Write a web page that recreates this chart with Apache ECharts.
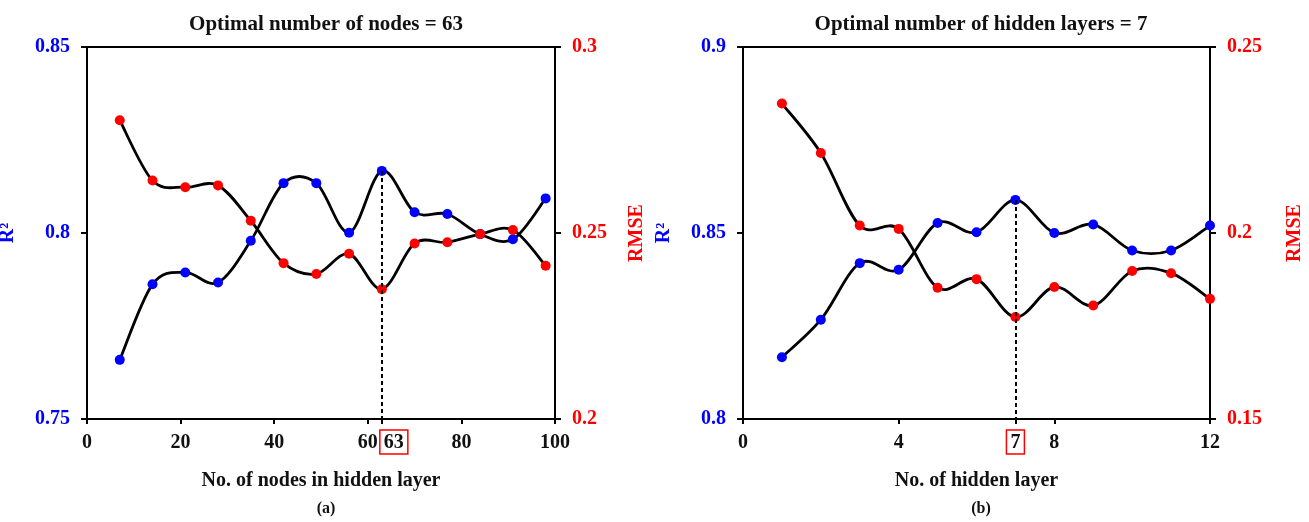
<!DOCTYPE html>
<html>
<head>
<meta charset="utf-8">
<script src="https://cdn.jsdelivr.net/npm/echarts@6/dist/echarts.min.js"></script>
<style>html,body{margin:0;padding:0;background:#fff;}#c{width:1309px;height:522px;}</style>
</head>
<body>
<div id="c"></div>
<script>
// ---- data ----
const nodes = [7,14,21,28,35,42,49,56,63,70,77,84,91,98];
const r2Nodes = [0.7659,0.7862,0.7894,0.7867,0.7979,0.8134,0.8134,0.8001,0.8167,0.8056,0.8051,0.7997,0.7983,0.8093];
const rmseNodes = [0.2803,0.2641,0.2623,0.2628,0.2533,0.2419,0.2390,0.2444,0.2349,0.2472,0.2475,0.2497,0.2508,0.2412];
const layers = [1,2,3,4,5,6,7,8,9,10,11,12];
const r2Layers = [0.8166,0.8267,0.8419,0.8401,0.8527,0.8502,0.8589,0.8500,0.8523,0.8453,0.8453,0.8520];
const rmseLayers = [0.2348,0.2215,0.2020,0.2011,0.1853,0.1876,0.1774,0.1855,0.1805,0.1898,0.1892,0.1823];
const optNodes = 63;
const optLayers = 7;
const xTicksNodes = [0,20,40,60,80,100];
const xTicksLayers = [0,4,8,12];
const titles = ['Optimal number of nodes = 63', 'Optimal number of hidden layers = 7'];
const xNames = ['No. of nodes in hidden layer', 'No. of hidden layer'];
const panelTags = ['(a)', '(b)'];

// ---- styling ----
const FF = '"Liberation Serif","Times New Roman",serif';
const BLUE = '#0000ff', RED = '#ff0000', BLACK = '#000000', INK = '#111111';
const zip = (xs, ys) => xs.map((x, i) => [x, ys[i]]);
const fmt = v => String(+v.toFixed(2));

function xAxis(grid, ticks, opt, name) {
  const tickVals = ticks.concat([opt]).sort((a, b) => a - b);
  return {
    type: 'value', gridIndex: grid, min: ticks[0], max: ticks[ticks.length - 1],
    interval: ticks[1] - ticks[0],
    name, nameLocation: 'middle', nameGap: 52,
    nameTextStyle: {fontFamily: FF, fontWeight: 'bold', fontSize: 20, color: INK},
    axisLine: {show: true, onZero: false, lineStyle: {color: BLACK, width: 2}},
    axisTick: {show: true, inside: false, length: 5, customValues: tickVals, lineStyle: {color: BLACK, width: 2}},
    axisLabel: {show: true, margin: 14, customValues: ticks, fontFamily: FF, fontWeight: 'bold', fontSize: 20, color: INK},
    splitLine: {show: false}
  };
}
function yAxis(grid, pos, min, max, color, name, nameGap) {
  return {
    type: 'value', gridIndex: grid, position: pos, min, max, interval: 0.05,
    name, nameLocation: 'middle', nameGap, nameRotate: 90,
    nameTextStyle: {fontFamily: FF, fontWeight: 'bold', fontSize: 20, color},
    axisLine: {show: true, onZero: false, lineStyle: {color: BLACK, width: 2}},
    axisTick: {show: true, inside: false, length: 6, lineStyle: {color: BLACK, width: 2}},
    axisLabel: {show: true, margin: 17, fontFamily: FF, fontWeight: 'bold', fontSize: 20, color, formatter: fmt},
    splitLine: {show: false}
  };
}
// Excel-like smoothed curve (Catmull-Rom -> cubic Bezier) drawn through the axis scales
function curveSeries(xi, yi, xs, ys) {
  return {
    type: 'custom', coordinateSystem: 'cartesian2d', xAxisIndex: xi, yAxisIndex: yi,
    data: zip(xs, ys), silent: true, animation: false, z: 2,
    renderItem: function (params, api) {
      if (params.dataIndex !== 0) return null;
      const p = xs.map((x, i) => api.coord([x, ys[i]]));
      const n = p.length;
      let d = 'M' + p[0][0] + ' ' + p[0][1];
      for (let i = 0; i < n - 1; i++) {
        const p0 = p[Math.max(i - 1, 0)], p1 = p[i], p2 = p[i + 1], p3 = p[Math.min(i + 2, n - 1)];
        const c1 = [p1[0] + (p2[0] - p0[0]) / 6, p1[1] + (p2[1] - p0[1]) / 6];
        const c2 = [p2[0] - (p3[0] - p1[0]) / 6, p2[1] - (p3[1] - p1[1]) / 6];
        d += ' C' + c1[0] + ' ' + c1[1] + ' ' + c2[0] + ' ' + c2[1] + ' ' + p2[0] + ' ' + p2[1];
      }
      return {type: 'path', shape: {pathData: d}, style: {fill: 'none', stroke: BLACK, lineWidth: 2.8}};
    }
  };
}
function pointSeries(xi, yi, xs, ys, color) {
  return {
    type: 'scatter', xAxisIndex: xi, yAxisIndex: yi, data: zip(xs, ys),
    symbol: 'circle', symbolSize: 10, itemStyle: {color, opacity: 1},
    emphasis: {disabled: true}, animation: false, z: 4
  };
}
function optMark(x, y, yBottom, gapW) {
  return {
    symbol: ['none', 'none'], silent: true, animation: false,
    lineStyle: {color: BLACK, type: [4, 3], width: 2},
    label: {
      show: true, position: 'end', distance: 11,
      formatter: '{g|}{b|' + x + '}',
      rich: {
        g: {width: gapW},
        b: {fontFamily: FF, fontWeight: 'bold', fontSize: 20, color: INK,
            borderColor: RED, borderWidth: 1.5, padding: [3, 4, 1, 4]}
      }
    },
    data: [[{coord: [x, y]}, {coord: [x, yBottom]}]]
  };
}

const pA = pointSeries(0, 0, nodes, r2Nodes, BLUE);
pA.markLine = optMark(optNodes, r2Nodes[nodes.indexOf(optNodes)], 0.75, 24);
const pB = pointSeries(1, 2, layers, r2Layers, BLUE);
pB.markLine = optMark(optLayers, r2Layers[layers.indexOf(optLayers)], 0.8, 0);

const titleStyle = {fontFamily: FF, fontWeight: 'bold', fontSize: 21, color: INK};
const tagStyle = {fontFamily: FF, fontWeight: 'bold', fontSize: 16, color: INK};
const option = {
  backgroundColor: '#fff',
  animation: false,
  title: [
    {text: titles[0], left: 321, top: 9, textAlign: 'center', textStyle: titleStyle},
    {text: titles[1], left: 976, top: 9, textAlign: 'center', textStyle: titleStyle},
    {text: panelTags[0], left: 321, top: 496, textAlign: 'center', textStyle: tagStyle},
    {text: panelTags[1], left: 976, top: 496, textAlign: 'center', textStyle: tagStyle}
  ],
  grid: [
    {left: 87, top: 47, width: 468, height: 372, show: true, borderColor: BLACK, borderWidth: 2,
     containLabel: false, outerBoundsMode: 'none'},
    {left: 743, top: 47, width: 467, height: 372, show: true, borderColor: BLACK, borderWidth: 2,
     containLabel: false, outerBoundsMode: 'none'}
  ],
  xAxis: [
    xAxis(0, xTicksNodes, optNodes, xNames[0]),
    xAxis(1, xTicksLayers, optLayers, xNames[1])
  ],
  yAxis: [
    yAxis(0, 'left', 0.75, 0.85, BLUE, 'R²', 69),
    yAxis(0, 'right', 0.2, 0.3, RED, 'RMSE', 72),
    yAxis(1, 'left', 0.8, 0.9, BLUE, 'R²', 69),
    yAxis(1, 'right', 0.15, 0.25, RED, 'RMSE', 75)
  ],
  series: [
    curveSeries(0, 0, nodes, r2Nodes),
    curveSeries(0, 1, nodes, rmseNodes),
    curveSeries(1, 2, layers, r2Layers),
    curveSeries(1, 3, layers, rmseLayers),
    pA,
    pointSeries(0, 1, nodes, rmseNodes, RED),
    pB,
    pointSeries(1, 3, layers, rmseLayers, RED)
  ]
};
const chart = echarts.init(document.getElementById('c'), null, {renderer: 'canvas'});
chart.setOption(option);
</script>
</body>
</html>
